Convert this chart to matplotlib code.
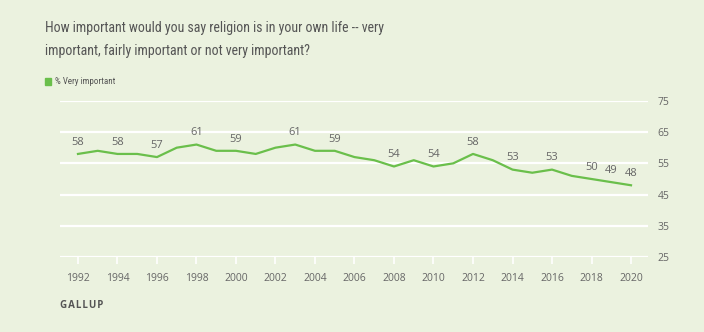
import numpy as np
import matplotlib as mlt
mlt.use('Agg')
import matplotlib.pyplot as plt
from matplotlib.patches import Rectangle
from matplotlib import font_manager

years = list(range(1992, 2021))
very_important = [58, 59, 58, 58, 57, 60, 61, 59, 59, 58, 60, 61, 59, 59, 57,
                  56, 54, 56, 54, 55, 58, 56, 53, 52, 53, 51, 50, 49, 48]
labeled_years = [1992, 1994, 1996, 1998, 2000, 2003, 2005, 2008, 2010, 2012,
                 2014, 2016, 2018, 2019, 2020]
y_ticks = [25, 35, 45, 55, 65, 75]
x_ticks = list(range(1992, 2021, 2))

title = ("How important would you say religion is in your own life -- very\n"
         "important, fairly important or not very important?")
series_name = "% Very important"

bg = '#ebf2df'
green = '#6abf4b'
gray = '#666666'

names = {f.name for f in font_manager.fontManager.ttflist}
narrow = [n for n in ['Roboto Condensed', 'Liberation Sans Narrow', 'Roboto'] if n in names]

fig = plt.figure(figsize=(7.04, 3.32), dpi=100)
fig.patch.set_facecolor(bg)
ax = fig.add_axes([60/704, 1-257.3/332, 588/704, (257.3-100.7)/332])
ax.set_facecolor(bg)

for t in y_ticks:
    ax.axhline(t, color='white', lw=1.6, zorder=1)

ax.plot(years, very_important, color=green, lw=1.6, zorder=3, solid_joinstyle='round')
for yr, v in zip(years, very_important):
    if yr in labeled_years:
        ax.annotate(str(v), (yr, v), xytext=(0, 4.5), textcoords='offset points',
                    ha='center', va='bottom', fontsize=8, color=gray,
                    family='Open Sans')

ax.set_xlim(1991.09, 2020.86)
ax.set_ylim(25, 75)
for s in ax.spines.values():
    s.set_visible(False)

ax.set_yticks(y_ticks)
ax.yaxis.tick_right()
ax.tick_params(axis='y', length=0, pad=7, labelsize=7.5, labelcolor=gray)
ax.set_xticks(x_ticks)
ax.tick_params(axis='x', length=5, width=1.2, color='white', pad=6,
               labelsize=7.5, labelcolor=gray)
for lab in ax.get_xticklabels() + ax.get_yticklabels():
    lab.set_family('Open Sans')

fig.text(45/704, 1-55/332, title, ha='left', va='baseline', fontsize=10,
         color='#555555', family=narrow[0], linespacing=1.8)

fig.patches.append(Rectangle((45/704, 1-85/332), 6/704, 7/332,
                             transform=fig.transFigure, color=green))
fig.text(55/704, 1-81.5/332, series_name, ha='left', va='center', fontsize=6.5,
         color='#555555', family=narrow[0])

fig.text(60/704, 1-305/332, 'G\u200aA\u200aL\u200aL\u200aU\u200aP', ha='left',
         va='center', fontsize=7, color='#555555', fontweight='bold',
         family=['Open Sans', 'DejaVu Sans'])

fig.savefig('out.png', dpi=100, facecolor=bg)
